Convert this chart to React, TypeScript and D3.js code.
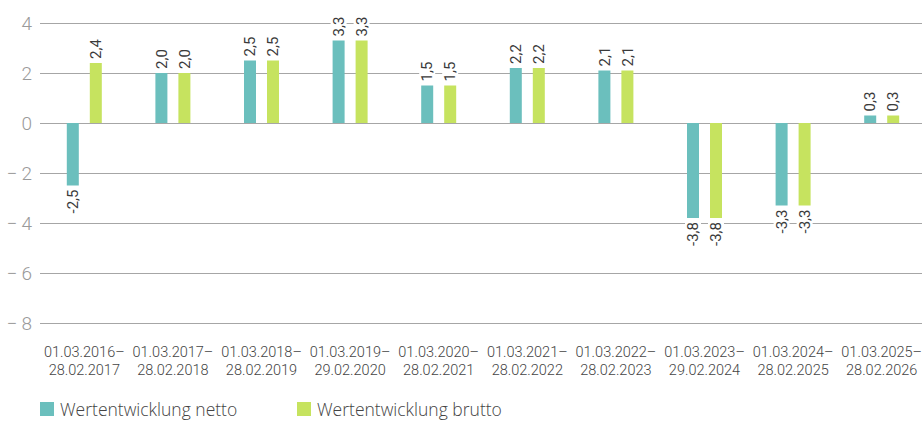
import { useEffect, useRef } from "react";
import * as d3 from "d3";

const periods = [
  ["01.03.2016–", "28.02.2017"],
  ["01.03.2017–", "28.02.2018"],
  ["01.03.2018–", "28.02.2019"],
  ["01.03.2019–", "29.02.2020"],
  ["01.03.2020–", "28.02.2021"],
  ["01.03.2021–", "28.02.2022"],
  ["01.03.2022–", "28.02.2023"],
  ["01.03.2023–", "29.02.2024"],
  ["01.03.2024–", "28.02.2025"],
  ["01.03.2025–", "28.02.2026"],
];
const netto = [-2.5, 2.0, 2.5, 3.3, 1.5, 2.2, 2.1, -3.8, -3.3, 0.3];
const brutto = [2.4, 2.0, 2.5, 3.3, 1.5, 2.2, 2.1, -3.8, -3.3, 0.3];
const yTicks = [4, 2, 0, -2, -4, -6, -8];
const seriesNames = ["Wertentwicklung netto", "Wertentwicklung brutto"];
const colors = ["#6bbfbd", "#c6e35f"];

export default function App() {
  const ref = useRef<SVGSVGElement>(null);

  useEffect(() => {
    const width = 922;
    const height = 421;
    const margin = { top: 23, right: 0, bottom: 98, left: 40 };
    const svg = d3.select(ref.current);
    svg.selectAll("*").remove();
    svg.attr("width", width).attr("height", height);

    const x = d3
      .scaleBand()
      .domain(periods.map((d, i) => String(i)))
      .range([margin.left, 926]);
    const y = d3.scaleLinear().domain([-8, 4]).range([height - margin.bottom, margin.top]);

    const font = "Roboto, 'DejaVu Sans', sans-serif";
    const wide = "'Open Sans', Roboto, sans-serif";

    // gridlines + y ticks
    const grid = svg.append("g");
    yTicks.forEach((t) => {
      grid
        .append("line")
        .attr("x1", margin.left)
        .attr("x2", width)
        .attr("y1", Math.round(y(t)) + 0.5)
        .attr("y2", Math.round(y(t)) + 0.5)
        .attr("stroke", "#a6a6a6")
        .attr("stroke-width", 1.2);
      grid
        .append("text")
        .attr("x", 32)
        .attr("y", y(t))
        .attr("dy", "0.36em")
        .attr("text-anchor", "end")
        .attr("font-family", font)
        .attr("font-weight", 300)
        .attr("font-size", 19)
        .attr("fill", "#9a9a9a")
        .text(t < 0 ? "\u2212\u2009" + Math.abs(t) : String(t));
    });

    const offs = [-11.5, 11.5];
    const bw = 12;
    const series = [netto, brutto];

    const bars = svg.append("g");
    const labels = svg.append("g");
    series.forEach((vals, s) => {
      vals.forEach((v, i) => {
        const cx = x(String(i))! + x.bandwidth() / 2 + offs[s];
        bars
          .append("rect")
          .attr("x", cx - bw / 2)
          .attr("width", bw)
          .attr("y", y(Math.max(0, v)))
          .attr("height", Math.abs(y(v) - y(0)))
          .attr("fill", colors[s]);

        const txt = d3.format(".1f")(v).replace(".", ",").replace("−", "-");
        const ly = v >= 0 ? y(v) - 4 : y(v) + 4;
        const g = labels.append("g").attr("transform", `translate(${cx},${ly}) rotate(-90)`);
        const tw = txt.length * 7.5;
        g.append("rect")
          .attr("x", v >= 0 ? -2 : -tw - 2)
          .attr("y", -8)
          .attr("width", tw + 4)
          .attr("height", 16)
          .attr("fill", "#fff");
        g.append("text")
          .attr("text-anchor", v >= 0 ? "start" : "end")
          .attr("dy", "0.35em")
          .attr("font-family", font)
          .attr("font-size", 15)
          .attr("fill", "#3a3a3a")
          .text(txt);
      });
    });

    // x labels
    const xl = svg.append("g");
    periods.forEach((p, i) => {
      const cx = x(String(i))! + x.bandwidth() / 2;
      p.forEach((line, k) => {
        xl.append("text")
          .attr("x", cx)
          .attr("y", 357 + k * 18)
          .attr("text-anchor", "middle")
          .attr("font-family", font)
          .attr("font-weight", 300)
          .attr("font-size", 14.5)
          .attr("fill", "#444")
          .text(line);
      });
    });

    // legend
    const lx = [40, 297];
    seriesNames.forEach((n, s) => {
      svg.append("rect")
        .attr("x", lx[s])
        .attr("y", 402)
        .attr("width", 14)
        .attr("height", 14)
        .attr("fill", colors[s]);
      svg.append("text")
        .attr("x", lx[s] + 20)
        .attr("y", 416)
        .attr("font-family", wide)
        .attr("font-weight", 300)
        .attr("font-size", 17.5)
        .attr("fill", "#444")
        .text(n);
    });
  }, []);

  return (
    <div style={{ position: "absolute", left: 0, top: 0 }}>
      <svg ref={ref}></svg>
    </div>
  );
}
